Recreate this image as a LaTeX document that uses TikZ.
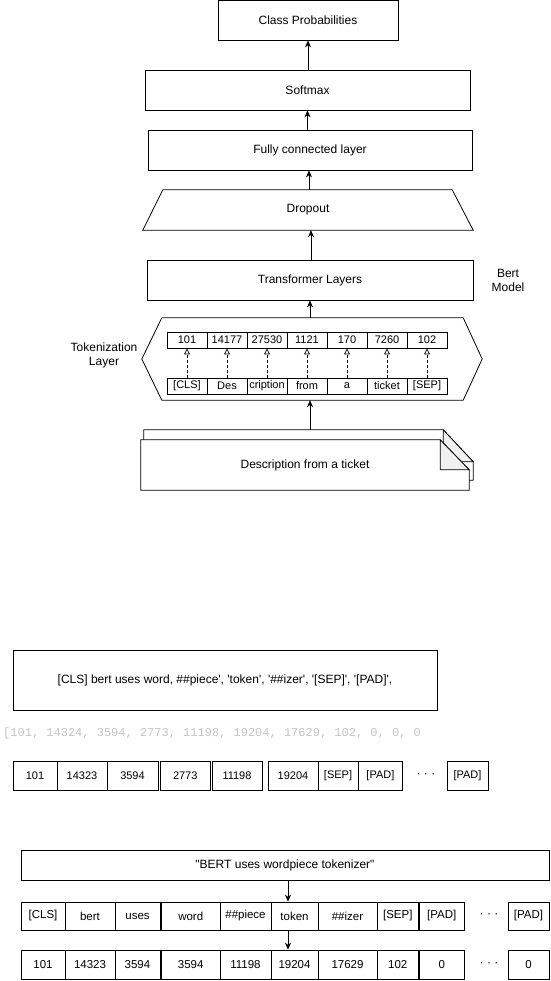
\documentclass[tikz,border=0pt]{standalone}
\usepackage{fontspec}
\setmainfont{Liberation Sans}[Ligatures=TeXOff]
\setmonofont{Liberation Mono}
\usetikzlibrary{arrows.meta,calc}
\definecolor{foldgray}{HTML}{F0F0F0}
\definecolor{codegray}{HTML}{C4C4C4}
\tikzset{
  box/.style={draw, inner sep=0pt, line width=0.8pt, font=\fontsize{12}{14}\selectfont},
  plain/.style={inner sep=0pt, font=\fontsize{12}{14}\selectfont},
  tcell/.style={draw, inner sep=0pt, line width=0.8pt, minimum width=40pt, minimum height=16pt, font=\fontsize{11}{13}\selectfont},
  cell/.style={draw, inner sep=0pt, line width=0.8pt, font=\fontsize{11}{13}\selectfont},
  bigcell/.style={cell, font=\fontsize{11.5}{13}\selectfont},
  arr/.style={line width=0.8pt, -{Stealth[length=7pt,width=6pt]}},
  dasharr/.style={line width=0.7pt, dash pattern=on 2.5pt off 2.5pt, -{Triangle[open,length=6pt,width=6pt]}},
}
\newcommand{\cellbox}[6]{\node[cell, minimum width={(#3-#2)*1pt}, minimum height=#5pt] (#1) at ({(#2+#3)/2},#4) {#6};}
\newcommand{\bigcellbox}[6]{\node[bigcell, minimum width={(#3-#2)*1pt}, minimum height=#5pt] (#1) at ({(#2+#3)/2},#4) {#6};}
\begin{document}
\begin{tikzpicture}[x=1pt,y=-1pt]
\useasboundingbox (0,0) rectangle (550,981);
% --- main stack ---
\node[box, minimum width=180pt, minimum height=40pt] (cp) at (308,20) {Class Probabilities};
\node[box, minimum width=325pt, minimum height=40pt] (sm) at (307.5,90) {Softmax};
\node[box, minimum width=324pt, minimum height=40pt] (fc) at (310,150) {Fully connected layer};
\node[plain, minimum width=330pt, minimum height=40pt] (do) at (308,210) {Dropout};
\draw[line width=0.8pt] (do.south west) -- (do.south east) -- ([xshift=-21pt]do.north east) -- ([xshift=20pt]do.north west) -- cycle;
\node[box, minimum width=326pt, minimum height=40pt] (tl) at (310,280) {Transformer Layers};
\node[plain, align=center] (bm) at (508,280) {Bert\\Model};
% hexagon
\node[plain, minimum width=340pt, minimum height=82pt] (tok) at (312,359) {};
\draw[line width=0.8pt] (tok.west) -- ([xshift=20pt]tok.north west) -- ([xshift=-19pt]tok.north east) -- (tok.east) -- ([xshift=-19pt]tok.south east) -- ([xshift=20pt]tok.south west) -- cycle;
\node[plain, align=center] (tokl) at (104,355) {Tokenization\\Layer};
\foreach \t [count=\i] in {101,14177,27530,1121,170,7260,102}
  {\node[tcell] (t\i) at ({147+40*\i},340) {\t};}
\foreach \w [count=\i] in {[CLS],Des,cription,from,a,ticket,[SEP]}
  {\node[tcell] (w\i) at ({147+40*\i},386) {\w};}
\foreach \i in {1,...,7} {\draw[dasharr] (w\i.north) -- (t\i.south);}
% document
\node[plain, minimum width=329pt, minimum height=50pt] (docb) at (308.5,455) {};
\draw[line width=0.8pt, fill=white] (docb.north west) -- ([xshift=-30pt]docb.north east) -- ([yshift=-32pt]docb.north east) -- (docb.south east) -- (docb.south west) -- cycle;
\draw[line width=0.8pt, fill=foldgray] ([xshift=-30pt]docb.north east) -- ([yshift=-32pt]docb.north east) -- ([xshift=-30pt,yshift=-32pt]docb.north east) -- cycle;
\node[plain, minimum width=328pt, minimum height=50pt] (doc) at (305,465) {};
\draw[line width=0.8pt, fill=white] (doc.north west) -- ([xshift=-29pt]doc.north east) -- ([yshift=-30pt]doc.north east) -- (doc.south east) -- (doc.south west) -- cycle;
\draw[line width=0.8pt, fill=foldgray] ([xshift=-29pt]doc.north east) -- ([yshift=-30pt]doc.north east) -- ([xshift=-29pt,yshift=-30pt]doc.north east) -- cycle;
\node[plain] (doct) at (305,465) {Description from a ticket};
% connectors
\draw[arr] (sm.north -| cp.south) -- (cp.south);
\draw[arr] (fc.north -| sm.south) -- (sm.south);
\draw[arr] ([xshift=1pt]do.north) -- ([xshift=1pt]do.north |- fc.south);
\draw[arr] ([xshift=1pt]tl.north) -- ([xshift=1pt]tl.north |- do.south);
\draw[arr] ([xshift=-2pt]tok.north) -- ([xshift=-2pt]tok.north |- tl.south);
\draw[arr] ([xshift=1.5pt]docb.north) -- ([xshift=1.5pt]docb.north |- tok.south);
% --- lower section ---
\node[box, minimum width=424pt, minimum height=60pt] (sent) at (225,680) {[CLS] bert uses word, \#\#piece', 'token', '\#\#izer', '[SEP]', '[PAD]',};
\node[inner sep=0pt, anchor=west, text=codegray, font=\ttfamily\fontsize{12}{14}\selectfont] (ids) at (3,733) {[101, 14324, 3594, 2773, 11198, 19204, 17629, 102, 0, 0, 0};
\cellbox{a1}{13}{57}{775.5}{29}{101}
\cellbox{a2}{57}{107}{775.5}{29}{14323}
\cellbox{a3}{107}{158}{775.5}{29}{3594}
\cellbox{a4}{160}{210.5}{775.5}{29}{2773}
\cellbox{a5}{212}{262}{775.5}{29}{11198}
\cellbox{a6}{268}{318}{775.5}{29}{19204}
\cellbox{a7}{318}{358}{775.5}{29}{[SEP]}
\cellbox{a8}{358.8}{402}{775.5}{29}{[PAD]}
\node[plain] (adots) at (426,775.5) {· · ·};
\cellbox{a9}{447}{488}{775.5}{29}{[PAD]}
% bottom
\node[box, minimum width=528pt, minimum height=30pt] (bert) at (285,865) {"BERT uses wordpiece tokenizer"};
\bigcellbox{b1}{21}{65}{916}{28}{[CLS]}
\bigcellbox{b2}{65}{115}{916}{28}{bert}
\bigcellbox{b3}{115}{160}{916}{28}{uses}
\bigcellbox{b4}{161.5}{220}{916}{28}{word}
\bigcellbox{b5}{220}{271}{916}{28}{\#\#piece}
\bigcellbox{b6}{271}{318}{916}{28}{token}
\bigcellbox{b7}{318}{377}{916}{28}{\#\#izer}
\bigcellbox{b8}{377}{418.5}{916}{28}{[SEP]}
\bigcellbox{b9}{419.5}{464}{916}{28}{[PAD]}
\node[plain] (bdots) at (489,916) {· · ·};
\bigcellbox{b10}{508}{549}{916}{28}{[PAD]}
\bigcellbox{c1}{21}{65}{964.5}{29}{101}
\bigcellbox{c2}{65}{115}{964.5}{29}{14323}
\bigcellbox{c3}{115}{160}{964.5}{29}{3594}
\bigcellbox{c4}{161.5}{220}{964.5}{29}{3594}
\bigcellbox{c5}{220}{271}{964.5}{29}{11198}
\bigcellbox{c6}{271}{318}{964.5}{29}{19204}
\bigcellbox{c7}{318}{377}{964.5}{29}{17629}
\bigcellbox{c8}{377}{418.5}{964.5}{29}{102}
\bigcellbox{c9}{419.5}{464}{964.5}{29}{0}
\node[plain] (cdots) at (489,964.5) {· · ·};
\bigcellbox{c10}{508}{549}{964.5}{29}{0}
\draw[arr] (bert.south -| 288,0) -- (b6.north -| 288,0);
\draw[arr] (b6.south -| 288,0) -- (c6.north -| 288,0);
\end{tikzpicture}
\end{document}
